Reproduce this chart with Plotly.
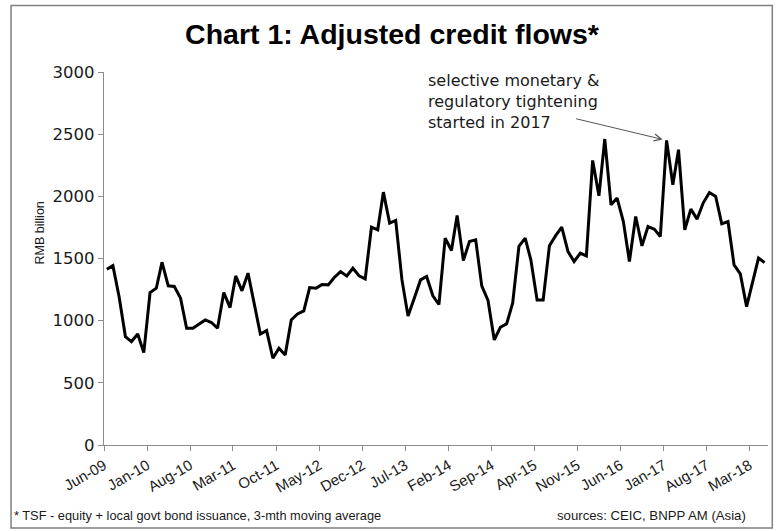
import pandas as pd
import plotly.graph_objects as go

# Monthly adjusted credit flows (RMB billion), 3-month moving average, Jun-2009 .. May-2018
start_month = "2009-06-01"
credit_flows = [
    1414, 1443, 1190, 872, 832, 893, 743, 1226, 1261, 1470,
    1280, 1275, 1181, 939, 939, 974, 1006, 985, 939, 1226,
    1105, 1360, 1240, 1382, 1140, 893, 920, 698, 778, 724,
    1006, 1054, 1079, 1266, 1261, 1290, 1288, 1347, 1395, 1360,
    1422, 1360, 1336, 1752, 1731, 2034, 1785, 1806, 1328, 1038,
    1181, 1328, 1355, 1200, 1130, 1664, 1564, 1846, 1484, 1637,
    1650, 1280, 1162, 845, 947, 974, 1141, 1597, 1664, 1489,
    1167, 1167, 1602, 1682, 1752, 1556, 1476, 1543, 1521, 2289,
    2004, 2461, 1932, 1986, 1797, 1476, 1838, 1602, 1757, 1736,
    1677, 2450, 2093, 2375, 1731, 1897, 1817, 1946, 2031, 1999,
    1779, 1797, 1449, 1376, 1113, 1288, 1503, 1467,
]
y_ticks = [0, 500, 1000, 1500, 2000, 2500, 3000]

month_starts = pd.date_range(start_month, periods=len(credit_flows) + 1, freq="MS")
# each month's value sits mid-month, between the monthly tick marks
mid_months = month_starts[:-1] + pd.Timedelta(days=14)

FONT = "Liberation Sans, Arial, sans-serif"
WIDE = "DejaVu Sans, Verdana, sans-serif"
TEXT = "#1a1a1a"
AXIS = "#8c8c8c"

fig = go.Figure()
fig.add_trace(go.Scatter(
    x=mid_months, y=credit_flows, mode="lines",
    line=dict(color="black", width=3), hoverinfo="x+y", showlegend=False,
))

fig.update_layout(
    width=777, height=531,
    margin=dict(l=104, r=9, t=72, b=86),
    paper_bgcolor="white", plot_bgcolor="white",
    font=dict(family=FONT, color=TEXT, size=14),
    title=dict(
        text="<b>Chart 1: Adjusted credit flows*</b>",
        x=0.5045, xanchor="center", xref="container", y=0.935, yanchor="middle",
        font=dict(family=FONT, size=28.5, color="black"),
    ),
    xaxis=dict(
        type="date",
        range=[month_starts[0], month_starts[-1]],
        tick0=start_month, dtick="M7", tickformat="%b-%y",
        tickangle=-30, ticks="outside", ticklen=5, tickcolor=AXIS,
        showline=True, linecolor=AXIS, linewidth=1.2,
        showgrid=False, zeroline=False,
        tickfont=dict(family=FONT, size=15, color=TEXT),
    ),
    yaxis=dict(
        range=[0, 3000], tickvals=y_ticks,
        ticks="outside", ticklen=5, tickcolor=AXIS,
        showline=True, linecolor=AXIS, linewidth=1.2,
        showgrid=False, zeroline=False,
        tickfont=dict(family=WIDE, size=16.5, color=TEXT),
    ),
)

# axis caption
fig.add_annotation(
    xref="paper", yref="paper", x=-0.0969, y=0.569, xanchor="center", yanchor="middle",
    text="RMB billion", textangle=-90, showarrow=False,
    font=dict(family=FONT, size=12.5, color=TEXT),
)

# outer frame around the whole chart
fig.add_shape(type="rect", xref="paper", yref="paper",
              x0=-0.140, x1=1.0065, y0=-0.2227, y1=1.178,
              line=dict(color="#7f7f7f", width=1.5), fillcolor="rgba(0,0,0,0)")

# policy note with an arrow to the Jan-17 peak
fig.add_annotation(
    xref="paper", yref="paper", x=0.4855, y=1.008, xanchor="left", yanchor="top",
    text="selective monetary &amp;<br>regulatory tightening<br>started in 2017",
    showarrow=False, align="left", font=dict(family=WIDE, size=16, color=TEXT),
)
peak_idx = credit_flows.index(max(credit_flows[85:95]))
fig.add_annotation(
    x=mid_months[peak_idx], y=credit_flows[peak_idx], text="",
    showarrow=True, arrowhead=5, arrowsize=1.4, arrowwidth=1, arrowcolor="#555555",
    standoff=4, ax=-92, ay=-22,
)

fig.add_annotation(
    xref="paper", yref="paper", x=-0.138, y=-0.188, xanchor="left", yanchor="middle",
    text="* TSF - equity + local govt bond issuance, 3-mth moving average",
    showarrow=False, font=dict(family=FONT, size=12.8, color=TEXT),
)
fig.add_annotation(
    xref="paper", yref="paper", x=0.97, y=-0.188, xanchor="right", yanchor="middle",
    text="sources: CEIC, BNPP AM (Asia)",
    showarrow=False, font=dict(family=FONT, size=13.2, color=TEXT),
)

fig.write_html("out.html")
